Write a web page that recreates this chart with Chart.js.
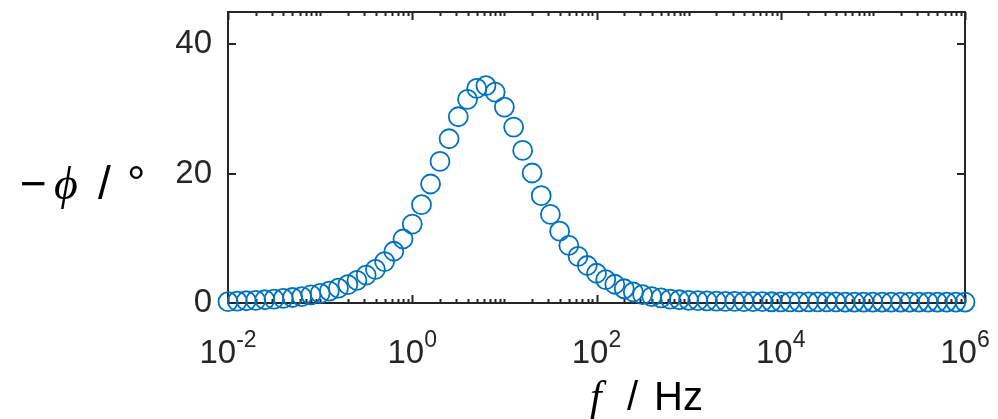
<!DOCTYPE html>
<html>
<head>
<meta charset="utf-8">
<script src="https://cdn.jsdelivr.net/npm/chart.js@4/dist/chart.umd.min.js"></script>
<style>
html, body { margin: 0; padding: 0; background: #fff; }
</style>
</head>
<body>
<canvas id="myChart" width="998" height="419"></canvas>
<script>
// frequencies (Hz), 10 per decade
const freq = [
    1e-2, 1.26e-2, 1.58e-2, 2e-2, 2.51e-2, 3.16e-2, 3.98e-2, 5.01e-2, 6.31e-2, 7.94e-2,
    1e-1, 1.26e-1, 1.58e-1, 2e-1, 2.51e-1, 3.16e-1, 3.98e-1, 5.01e-1, 6.31e-1, 7.94e-1,
    1e0, 1.26e0, 1.58e0, 2e0, 2.51e0, 3.16e0, 3.98e0, 5.01e0, 6.31e0, 7.94e0,
    1e1, 1.26e1, 1.58e1, 2e1, 2.51e1, 3.16e1, 3.98e1, 5.01e1, 6.31e1, 7.94e1,
    1e2, 1.26e2, 1.58e2, 2e2, 2.51e2, 3.16e2, 3.98e2, 5.01e2, 6.31e2, 7.94e2,
    1e3, 1.26e3, 1.58e3, 2e3, 2.51e3, 3.16e3, 3.98e3, 5.01e3, 6.31e3, 7.94e3,
    1e4, 1.26e4, 1.58e4, 2e4, 2.51e4, 3.16e4, 3.98e4, 5.01e4, 6.31e4, 7.94e4,
    1e5, 1.26e5, 1.58e5, 2e5, 2.51e5, 3.16e5, 3.98e5, 5.01e5, 6.31e5, 7.94e5,
    1e6
];

// -phase (degrees)
const phase = [
    0.2, 0.3, 0.35, 0.4, 0.5, 0.6, 0.7, 0.85, 1.0, 1.25,
    1.5, 1.85, 2.3, 2.85, 3.5, 4.3, 5.2, 6.4, 8.0, 9.9,
    12.2, 15.2, 18.4, 21.9, 25.4, 28.8, 31.5, 33.2, 33.6, 32.6,
    30.3, 27.2, 23.6, 20.1, 16.6, 13.7, 11.1, 8.9, 7.2, 5.8,
    4.6, 3.6, 2.9, 2.2, 1.7, 1.3, 1.0, 0.8, 0.6, 0.5,
    0.42, 0.36, 0.32, 0.28, 0.26, 0.24, 0.22, 0.21, 0.2, 0.19,
    0.18, 0.18, 0.17, 0.17, 0.16, 0.16, 0.16, 0.15, 0.15, 0.15,
    0.15, 0.15, 0.15, 0.15, 0.15, 0.15, 0.15, 0.15, 0.15, 0.15,
    0.15
];

const xTicks = [1e-2, 1e0, 1e2, 1e4, 1e6];
const xTickExp = ["-2", "0", "2", "4", "6"];
const yTicks = [0, 20, 40];

const axisColor = "#262626";
const markerColor = "#0072BD";
const sans = "'Liberation Sans', Arial, Helvetica, sans-serif";

// box, inward ticks, x tick labels and axis titles
const boxPlugin = {
    id: 'box',
    beforeDatasetsDraw(chart) {
        const { ctx, chartArea: a, scales: { x, y } } = chart;
        ctx.save();
        ctx.strokeStyle = axisColor;
        ctx.lineWidth = 2;
        ctx.beginPath();
        // log minor ticks
        for (let e = -2; e < 6; e++) {
            for (let m = 1; m <= 9; m++) {
                const v = m * Math.pow(10, e);
                if (xTicks.includes(v)) continue;
                const px = Math.round(x.getPixelForValue(v)) + 0.5;
                ctx.moveTo(px, a.bottom); ctx.lineTo(px, a.bottom - 4);
                ctx.moveTo(px, a.top); ctx.lineTo(px, a.top + 4);
            }
        }
        xTicks.forEach(v => {
            const px = Math.round(x.getPixelForValue(v)) + 0.5;
            ctx.moveTo(px, a.bottom); ctx.lineTo(px, a.bottom - 8);
            ctx.moveTo(px, a.top); ctx.lineTo(px, a.top + 8);
        });
        yTicks.forEach(v => {
            const py = Math.round(y.getPixelForValue(v));
            ctx.moveTo(a.left, py); ctx.lineTo(a.left + 8, py);
            ctx.moveTo(a.right, py); ctx.lineTo(a.right - 8, py);
        });
        ctx.stroke();
        ctx.strokeRect(a.left, a.top, a.right - a.left, a.bottom - a.top);
        ctx.restore();
    },
    afterDraw(chart) {
        const { ctx, chartArea: a, scales: { x } } = chart;
        ctx.save();
        ctx.fillStyle = axisColor;
        ctx.textBaseline = 'alphabetic';
        ctx.textAlign = 'left';
        // x tick labels 10^n
        xTicks.forEach((v, i) => {
            const px = x.getPixelForValue(v);
            ctx.font = "33px " + sans;
            const w1 = ctx.measureText("10").width;
            ctx.font = "23px " + sans;
            const w2 = ctx.measureText(xTickExp[i]).width;
            const left = px - (w1 + w2) / 2;
            ctx.font = "33px " + sans;
            ctx.fillText("10", left, a.bottom + 60);
            ctx.font = "23px " + sans;
            ctx.fillText(xTickExp[i], left + w1, a.bottom + 44);
        });

        // x title: f / Hz
        ctx.fillStyle = "#000";
        const xb = 410;
        ctx.font = "italic 42px 'Liberation Serif', serif";
        ctx.fillText("f", 590, xb);
        ctx.font = "40px " + sans;
        ctx.fillText("/", 627, xb);
        ctx.fillText("Hz", 654, xb);

        // y title: −ϕ / °
        const yb = 199;
        ctx.font = "46px " + sans;
        ctx.fillText("\u2212", 20, yb);
        ctx.font = "italic 46px 'Liberation Serif', serif";
        ctx.fillText("\u03D5", 54, yb);
        ctx.font = "46px " + sans;
        ctx.fillText("/", 98, yb);
        ctx.fillText("\u00B0", 127, yb);
        ctx.restore();
    }
};

const ctx = document.getElementById('myChart');

new Chart(ctx, {
    type: 'scatter',
    data: {
        datasets: [{
            data: freq.map((f, i) => ({ x: f, y: phase[i] })),
            pointStyle: 'circle',
            pointRadius: 9.5,
            pointHoverRadius: 9.5,
            pointBorderWidth: 1.8,
            borderColor: markerColor,
            backgroundColor: 'rgba(0,0,0,0)',
            showLine: false,
            clip: false
        }]
    },
    options: {
        responsive: false,
        animation: false,
        devicePixelRatio: 1,
        layout: { padding: { top: 12, right: 33, left: 0, bottom: 0 } },
        plugins: {
            legend: { display: false },
            tooltip: { enabled: false }
        },
        scales: {
            x: {
                type: 'logarithmic',
                min: 1e-2,
                max: 1e6,
                grid: { display: false, drawTicks: false },
                border: { display: false },
                ticks: { display: false },
                afterFit(s) { s.height = 116; s.paddingLeft = 0; s.paddingRight = 0; }
            },
            y: {
                min: 0,
                max: 45,
                afterBuildTicks(s) { s.ticks = yTicks.map(v => ({ value: v })); },
                grid: { display: false, drawTicks: false },
                border: { display: false },
                ticks: {
                    color: axisColor,
                    padding: 16,
                    font: { family: sans, size: 33 }
                },
                afterFit(s) { s.width = 228; s.paddingTop = 0; s.paddingBottom = 0; }
            }
        }
    },
    plugins: [boxPlugin]
});
</script>
</body>
</html>
